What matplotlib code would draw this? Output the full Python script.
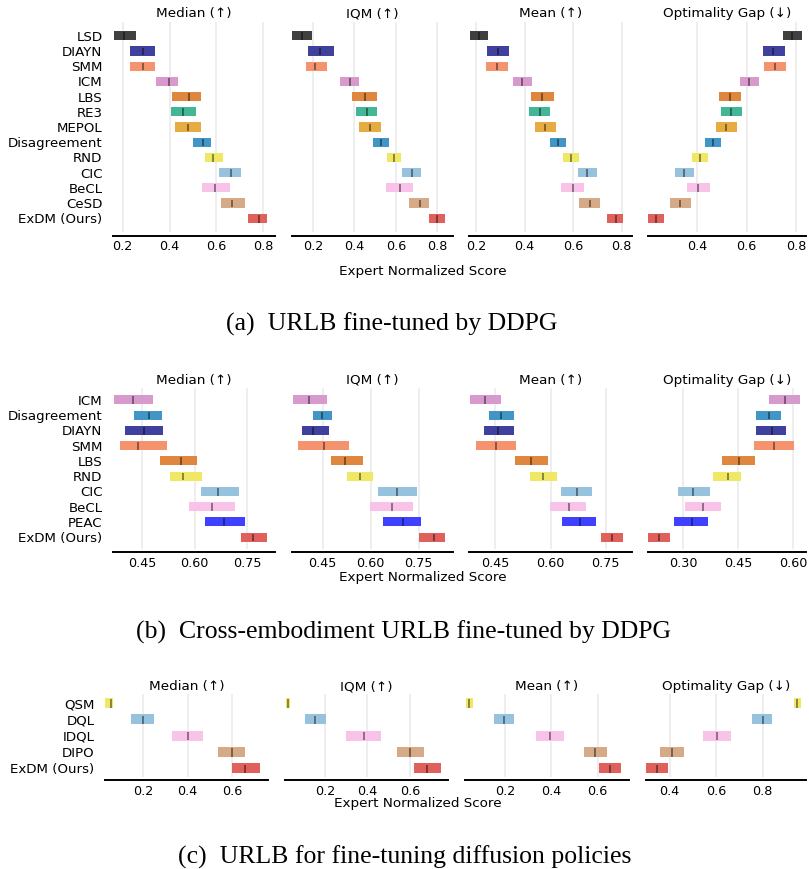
"""
Interval-estimate panels (median / IQM / mean / optimality gap) for three URLB settings.
Writes out.png (809x869).
"""
import matplotlib
matplotlib.use("Agg")
import matplotlib.pyplot as plt

W, H = 809, 869
METRICS = ["Median (↑)", "IQM (↑)", "Mean (↑)", "Optimality Gap (↓)"]

COL = {
    "LSD": "#404040", "DIAYN": "#40409e", "SMM": "#f5936f", "ICM": "#d899cc",
    "LBS": "#e0873f", "RE3": "#42b695", "MEPOL": "#e6ab42", "Disagreement": "#4296c5",
    "RND": "#f0e865", "CIC": "#96c2de", "BeCL": "#f9c2e9", "CeSD": "#d6aa86",
    "ExDM (Ours)": "#e0605c", "PEAC": "#4040ff",
    "QSM": "#f0e865", "DQL": "#96c2de", "IDQL": "#f9c2e9", "DIPO": "#d6aa86",
}

# ---- (a) URLB fine-tuned by DDPG ---- (low, point, high) per algorithm
a_algs = ["LSD", "DIAYN", "SMM", "ICM", "LBS", "RE3", "MEPOL", "Disagreement",
          "RND", "CIC", "BeCL", "CeSD", "ExDM (Ours)"]
a_median = [(0.164, 0.207, 0.257), (0.231, 0.285, 0.338), (0.231, 0.285, 0.338),
            (0.342, 0.396, 0.436), (0.410, 0.484, 0.534), (0.406, 0.459, 0.513),
            (0.423, 0.477, 0.534), (0.501, 0.541, 0.577), (0.551, 0.587, 0.628),
            (0.611, 0.661, 0.705), (0.538, 0.594, 0.658), (0.619, 0.666, 0.722),
            (0.734, 0.780, 0.815)]
a_iqm = [(0.102, 0.146, 0.194), (0.179, 0.237, 0.304), (0.165, 0.211, 0.270),
         (0.333, 0.378, 0.424), (0.390, 0.451, 0.510), (0.410, 0.461, 0.510),
         (0.424, 0.475, 0.530), (0.491, 0.530, 0.568), (0.558, 0.589, 0.626),
         (0.630, 0.677, 0.722), (0.554, 0.621, 0.683), (0.664, 0.714, 0.760),
         (0.760, 0.800, 0.837)]
a_mean = [(0.175, 0.212, 0.249), (0.245, 0.291, 0.336), (0.241, 0.286, 0.332),
          (0.352, 0.389, 0.430), (0.426, 0.473, 0.521), (0.418, 0.463, 0.505),
          (0.443, 0.484, 0.529), (0.505, 0.537, 0.570), (0.558, 0.591, 0.624),
          (0.620, 0.657, 0.698), (0.550, 0.598, 0.644), (0.624, 0.669, 0.710),
          (0.739, 0.776, 0.805)]
a_gap = [(0.747, 0.786, 0.824), (0.666, 0.708, 0.755), (0.670, 0.714, 0.759),
         (0.573, 0.611, 0.650), (0.488, 0.534, 0.577), (0.496, 0.538, 0.581),
         (0.476, 0.516, 0.561), (0.431, 0.464, 0.496), (0.378, 0.412, 0.443),
         (0.309, 0.346, 0.386), (0.358, 0.404, 0.451), (0.289, 0.331, 0.374),
         (0.200, 0.232, 0.265)]
a_xlims = [(0.159, 0.850), (0.1, 0.875), (0.171, 0.842), (0.200, 0.841)]
a_xticks = [[0.2, 0.4, 0.6, 0.8]] * 3 + [[0.4, 0.6, 0.8]]

# ---- (b) Cross-embodiment URLB fine-tuned by DDPG ----
b_algs = ["ICM", "Disagreement", "DIAYN", "SMM", "LBS", "RND", "CIC", "BeCL",
          "PEAC", "ExDM (Ours)"]
b_median = [(0.369, 0.425, 0.481), (0.426, 0.469, 0.506), (0.400, 0.456, 0.509),
            (0.386, 0.439, 0.521), (0.501, 0.562, 0.607), (0.529, 0.567, 0.621),
            (0.618, 0.668, 0.727), (0.584, 0.649, 0.716), (0.630, 0.684, 0.744),
            (0.733, 0.766, 0.807)]
b_iqm = [(0.356, 0.408, 0.465), (0.421, 0.449, 0.480), (0.384, 0.421, 0.471),
         (0.374, 0.453, 0.533), (0.477, 0.520, 0.577), (0.527, 0.566, 0.608),
         (0.623, 0.684, 0.745), (0.598, 0.667, 0.732), (0.639, 0.701, 0.757),
         (0.751, 0.797, 0.832)]
b_mean = [(0.380, 0.422, 0.465), (0.432, 0.465, 0.500), (0.418, 0.457, 0.500),
          (0.396, 0.452, 0.506), (0.503, 0.547, 0.593), (0.544, 0.579, 0.618),
          (0.629, 0.672, 0.714), (0.599, 0.650, 0.697), (0.632, 0.679, 0.725),
          (0.738, 0.768, 0.798)]
b_gap = [(0.535, 0.577, 0.619), (0.499, 0.534, 0.567), (0.499, 0.541, 0.581),
         (0.494, 0.548, 0.603), (0.407, 0.453, 0.497), (0.382, 0.421, 0.459),
         (0.287, 0.328, 0.372), (0.304, 0.353, 0.402), (0.276, 0.323, 0.369),
         (0.203, 0.233, 0.263)]
b_xlims = [(0.367, 0.830), (0.354, 0.858), (0.378, 0.822), (0.204, 0.635)]
b_xticks = [[0.45, 0.60, 0.75]] * 3 + [[0.30, 0.45, 0.60]]

# ---- (c) URLB for fine-tuning diffusion policies ----
c_algs = ["QSM", "DQL", "IDQL", "DIPO", "ExDM (Ours)"]
c_median = [(0.029, 0.053, 0.065), (0.145, 0.200, 0.248), (0.329, 0.404, 0.468),
            (0.536, 0.599, 0.657), (0.599, 0.660, 0.724)]
c_iqm = [(0.016, 0.026, 0.035), (0.106, 0.151, 0.205), (0.299, 0.382, 0.464),
         (0.539, 0.600, 0.666), (0.619, 0.683, 0.746)]
c_mean = [(0.032, 0.046, 0.062), (0.153, 0.196, 0.239), (0.333, 0.394, 0.454),
          (0.540, 0.587, 0.639), (0.604, 0.652, 0.699)]
c_gap = [(0.935, 0.949, 0.965), (0.756, 0.800, 0.841), (0.542, 0.604, 0.662),
         (0.359, 0.410, 0.461), (0.299, 0.346, 0.393)]
c_xlims = [(0.028, 0.762), (0.012, 0.780), (0.028, 0.735), (0.299, 0.986)]
c_xticks = [[0.2, 0.4, 0.6]] * 3 + [[0.4, 0.6, 0.8]]

fig = plt.figure(figsize=(W / 100, H / 100), dpi=100)


def px_axes(x0, x1, top, bot):
    return fig.add_axes([x0 / W, 1 - bot / H, (x1 - x0) / W, (bot - top) / H])


def draw_row(algs, data, xboxes, top, bot, xlims, xticks, xlab_xy, cap_xy, caption):
    n = len(algs)
    h = 0.6
    for j, (est, (x0, x1)) in enumerate(zip(data, xboxes)):
        ax = px_axes(x0, x1, top, bot)
        for i, (alg, (lo, pt, hi)) in enumerate(zip(algs, est)):
            y = n - 1 - i
            ax.barh(y, hi - lo, height=h, left=lo, color=COL[alg], zorder=2)
            ax.vlines(pt, y - 7.5 * h / 16, y + 6 * h / 16, color="k", alpha=0.5, lw=1.2, zorder=3)
        ax.set_xlim(*xlims[j])
        ax.set_xticks(xticks[j])
        if j == 0:
            ax.set_yticks(range(n))
            ax.set_yticklabels(algs[::-1], fontsize=9.6)
        else:
            ax.set_yticks([])
        ax.set_title(METRICS[j], fontsize=9.7, pad=3)
        for s in ["top", "right", "left"]:
            ax.spines[s].set_visible(False)
        ax.spines["bottom"].set_linewidth(1.4)
        ax.spines["bottom"].set_position(("outward", 2.5))
        ax.tick_params(axis="x", length=0, pad=3, labelsize=9.2)
        ax.tick_params(axis="y", length=0, pad=7.5)
        ax.grid(True, axis="x", alpha=0.25, lw=1.2, zorder=0)
        ax.set_axisbelow(True)
    fig.text(xlab_xy[0] / W, 1 - xlab_xy[1] / H, "Expert Normalized Score",
             ha="center", va="center", fontsize=9.7)
    fig.text(cap_xy[0] / W, 1 - cap_xy[1] / H, caption, ha="center", va="center",
             fontsize=18.5, family="Liberation Serif")


boxes_ab = [(113, 275), (292, 453), (469, 632), (648, 806)]
boxes_c = [(105, 268), (285, 448), (465, 629), (646, 806)]

draw_row(a_algs, [a_median, a_iqm, a_mean, a_gap], boxes_ab, 21.6, 232.4, a_xlims, a_xticks,
         (423, 271), (392, 324), "(a)  URLB fine-tuned by DDPG")
draw_row(b_algs, [b_median, b_iqm, b_mean, b_gap], boxes_ab, 388, 549, b_xlims, b_xticks,
         (423, 578), (404, 632), "(b)  Cross-embodiment URLB fine-tuned by DDPG")
draw_row(c_algs, [c_median, c_iqm, c_mean, c_gap], boxes_c, 694.4, 777, c_xlims, c_xticks,
         (418, 803), (405, 857), "(c)  URLB for fine-tuning diffusion policies")

fig.savefig("out.png", dpi=100)
